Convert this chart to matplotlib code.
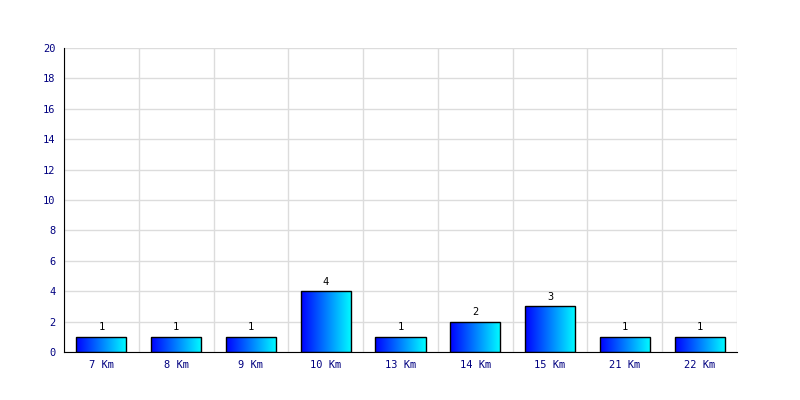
import numpy as np
import matplotlib.pyplot as plt
from matplotlib.colors import LinearSegmentedColormap

categories = ["7 Km", "8 Km", "9 Km", "10 Km", "13 Km", "14 Km", "15 Km", "21 Km", "22 Km"]
counts = [1, 1, 1, 4, 1, 2, 3, 1, 1]
y_ticks = list(range(0, 21, 2))

plt.rcParams['font.family'] = ['DejaVu Sans Mono']
label_color = "#000080"
grad = LinearSegmentedColormap.from_list("bluecyan", ["#0000ff", "#00ffff"])

fig = plt.figure(figsize=(8, 4), dpi=100)
ax = fig.add_axes([0.08, 0.12, 0.84125, 0.76])

n = len(categories)
x = np.arange(n)
width = 0.67
ax.set_xlim(-0.5, n - 0.5)
ax.set_ylim(0, 20)

# grid: horizontal at ticks, vertical between categories
for yt in y_ticks:
    ax.axhline(yt, color="#dcdcdc", linewidth=1, zorder=0)
for xb in np.arange(-0.5, n + 0.5, 1):
    ax.axvline(xb, color="#dcdcdc", linewidth=1, zorder=0)

bars = ax.bar(x, counts, width=width, facecolor="none", edgecolor="black", linewidth=1, zorder=3)
gradient = np.linspace(0, 1, 256).reshape(1, -1)
for b, v in zip(bars, counts):
    x0 = b.get_x()
    im = ax.imshow(gradient, cmap=grad, aspect="auto", zorder=2,
                   extent=[x0, x0 + b.get_width(), 0, v])
    im.set_clip_path(b)
    ax.text(b.get_x() + b.get_width() / 2, v + 0.3, str(v), ha="center", va="bottom",
            fontsize=7.5, color="black")

ax.set_xticks(x)
ax.set_xticklabels(categories)
ax.set_yticks(y_ticks)
ax.tick_params(axis="both", length=0, labelsize=7.5, labelcolor=label_color)
ax.tick_params(axis="x", pad=6)
ax.tick_params(axis="y", pad=6)

for s in ["top", "right"]:
    ax.spines[s].set_visible(False)
ax.spines["left"].set_color("black")
ax.spines["bottom"].set_color("black")
ax.spines["left"].set_zorder(4)
ax.spines["bottom"].set_zorder(4)

fig.savefig("out.png", dpi=100)
